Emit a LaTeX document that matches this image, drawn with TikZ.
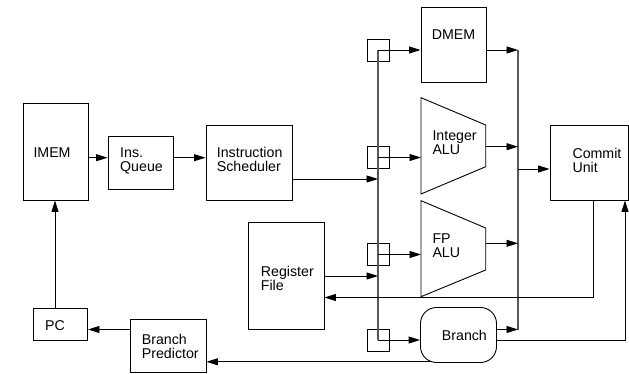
\documentclass[tikz,border=0pt]{standalone}
\usepackage{fontspec}
\setmainfont{Liberation Sans}
\usetikzlibrary{arrows.meta}
\newcommand{\twoline}[2]{\vtop{\hbox{#1}\hbox{#2}}}
\tikzset{
  blk/.style={draw, line width=0.9pt, inner sep=0pt},
  lbl/.style={anchor=base west, inner sep=0pt, font=\fontsize{14.2}{14}\selectfont},
  ln/.style={line width=0.9pt},
  arr/.style={line width=0.9pt, -{Triangle[length=11.5pt,width=7pt]}},
  bus/.style={line width=1.2pt, black!65},
}
\begin{document}
\begin{tikzpicture}[x=1pt,y=-1pt]
\useasboundingbox (0,0) rectangle (629,374);
% boxes
\node[blk, minimum width=65pt, minimum height=97pt] (imem) at (55.5,151.5) {};
\node[blk, minimum width=65pt, minimum height=53pt] (queue) at (140.5,162.5) {};
\node[blk, minimum width=86pt, minimum height=75pt] (sched) at (249,162.5) {};
\node[blk, minimum width=65pt, minimum height=75pt] (dmem) at (453.5,44.5) {};
\node[blk, minimum width=75.5pt, minimum height=107pt] (regfile) at (286.25,275.5) {};
\node[blk, minimum width=78pt, minimum height=75pt] (commit) at (589,162.5) {};
\node[blk, minimum width=76pt, minimum height=53.5pt] (pred) at (168,345.75) {};
\node[blk, minimum width=54.5pt, minimum height=32pt] (pc) at (60.25,324) {};
\node[blk, rounded corners=16pt, minimum width=76pt, minimum height=55pt] (branch) at (458.5,335) {};
% ALUs
\draw[ln] (421,97.7) coordinate (intnw) -- (485.7,125) -- (485.7,166.7) -- (421,194) -- cycle;
\draw[ln] (421,200.7) coordinate (fpnw) -- (485.7,228) -- (485.7,270) -- (421,296.7) -- cycle;
% labels
\node[lbl] (timem) at (33.3,158) {IMEM};
\node[lbl] (tqueue) at (120,158) {\twoline{Ins.}{Queue}};
\node[lbl] (tsched) at (216.7,157.7) {\twoline{Instruction}{Scheduler}};
\node[lbl] (tdmem) at (431.7,39.3) {DMEM};
\node[lbl] (tint) at (432.3,141) {\twoline{Integer}{ALU}};
\node[lbl] (tfp) at (432.3,243.3) {\twoline{FP}{ALU}};
\node[lbl] (treg) at (260.7,276) {\twoline{Register}{File}};
\node[lbl] (tcommit) at (572.3,158.3) {\twoline{Commit}{Unit}};
\node[lbl] (tbranch) at (441.7,340) {Branch};
\node[lbl] (tpred) at (141.7,344.5) {\twoline{Branch}{Predictor}};
\node[lbl] (tpc) at (45,330) {PC};
% small boxes on bus
\node[blk, minimum size=22pt] (s1) at (378,50) {};
\node[blk, minimum size=22pt] (s2) at (378,157.5) {};
\node[blk, minimum size=22pt] (s3) at (378,254.5) {};
\node[blk, minimum size=22pt] (s4) at (378,340) {};
% collector coordinates
\coordinate (ctop) at (518,50);
\coordinate (cbot) at (518,329.5);
% buses
\draw[bus] (s1.center) -- (s4.center);
\draw[bus] (ctop) -- (cbot);
% front end
\draw[arr] (imem.east |- 0,157.7) -- (queue.west |- 0,157.7);
\draw[arr] (queue.east |- 0,157.7) -- (sched.west |- 0,157.7);
\draw[arr] (sched.east |- 0,179) -- (s2.center |- 0,179);
\draw[arr] (regfile.east |- 0,276) -- (s3.center |- 0,276);
% bus to units
\draw[arr] (s1.center) -- (dmem.west |- s1.center);
\draw[arr] (s2.center) -- (intnw |- s2.center);
\draw[arr] (s3.center) -- (fpnw |- s3.center);
\draw[arr] (s4.center) -- (branch.west |- s4.center);
% units to collector
\draw[arr] (dmem.east |- ctop) -- (ctop);
\draw[arr] (485.7,146.7) -- (ctop |- 0,146.7);
\draw[arr] (485.7,243.3) -- (ctop |- 0,243.3);
\draw[arr] (branch.east |- cbot) -- (cbot);
\draw[arr] (ctop |- 0,169) -- (commit.west |- 0,169);
% feedback
\draw[arr] (commit.south -| 593.5,0) |- (regfile.east |- 0,297.5);
\draw[arr] (branch.east |- 0,340) -| (commit.south -| 625,0);
\draw[arr] (432,361.8) -- (pred.east |- 0,361.8);
\draw[arr] (pred.west |- 0,329.5) -- (pc.east |- 0,329.5);
\draw[arr] (pc.north -| 55,0) -- (imem.south -| 55,0);
\end{tikzpicture}
\end{document}
